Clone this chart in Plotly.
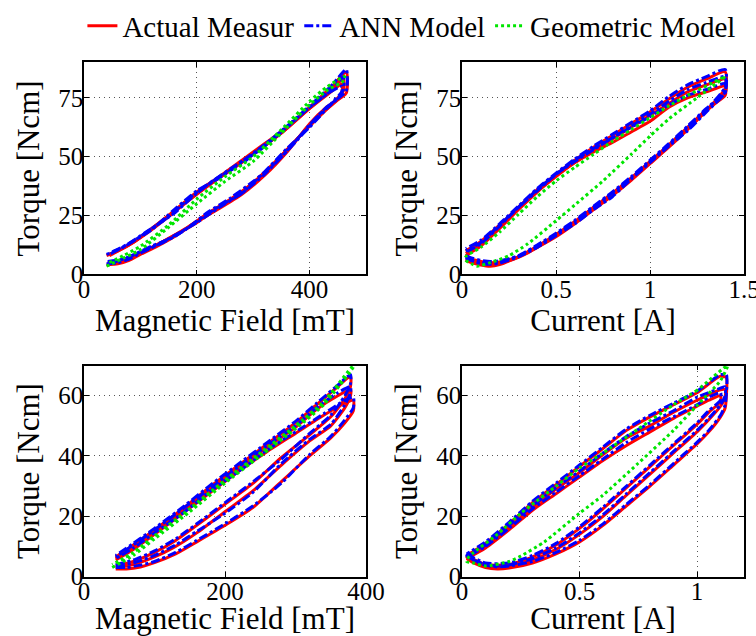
import plotly.graph_objects as go

N = None
# ---------------- Top-left: Torque vs Magnetic Field (mT) ----------------
tl_x = [40, 60, 80, 100, 130, 160, 200, 240, 280, 320, 360, 400, 430, 465, 465, 440, 400, 360, 320, 280, 240, 200, 160, 120, 90, 60, 40, N,
        42, 70, 100, 140, 180, 220, 260, 300, 340, 380, 420, 455, 458, 430, 390, 350, 310, 270, 230, 190, 150, 110, 75, 45, N,
        45, 80, 120, 160, 200, 240, 280, 320, 360, 400, 440, 460, 460, 440, 400, 360, 320, 280, 240, 200, 160, 120, 80, 45]
tl_actual = [4, 4.5, 6, 8.5, 12, 16, 22.5, 28, 34, 42, 52, 64, 71, 77, 86, 80, 71, 62.5, 55.5, 48.5, 41.5, 35, 27, 19.5, 14, 10, 8, N,
             5, 6, 9, 14, 19.5, 26, 32, 39, 48, 58, 68, 75.5, 81, 76, 68.5, 60, 53, 46, 39.5, 32.5, 25, 17.5, 12, 8.5, N,
             5, 7, 11.5, 16.5, 22, 28.5, 35, 43, 53, 63, 72.5, 78, 83, 79, 70.5, 62, 54.5, 47.5, 41, 34, 26.5, 19, 12.5, 8]
tl_ann = [4.5, 5, 6.5, 9, 12.5, 16.5, 22, 28.5, 34.5, 42.5, 52.5, 63.5, 71, 78, 87, 80.5, 71.5, 63, 55, 48, 41, 35.5, 27.5, 19, 14.5, 10.5, 8.5, N,
          5.5, 6.5, 9.5, 13.5, 19, 26.5, 32.5, 39.5, 47.5, 57.5, 68.5, 76, 80, 76.5, 69, 60.5, 52.5, 46.5, 40, 33, 24.5, 18, 12.5, 9, N,
          4.5, 7.5, 12, 16, 22.5, 29, 34.5, 43.5, 53.5, 62.5, 73, 78.5, 84, 78.5, 71, 62.5, 55, 47, 41.5, 34.5, 26, 19.5, 13, 8.5]
tl_geo_x = [40, 70, 100, 150, 200, 250, 300, 350, 400, 430, 462, 462, 430, 400, 350, 300, 250, 200, 150, 100, 70, 40]
tl_geo = [3.5, 7, 10.5, 20, 30, 39.5, 48, 60, 72, 78, 82.5, 84, 79.5, 73.5, 61.5, 50, 41.5, 32, 21, 12, 8, 4.5]

# ---------------- Top-right: Torque vs Current (A) ----------------
tr_loop = [0.02, 0.05, 0.1, 0.15, 0.2, 0.3, 0.4, 0.5, 0.6, 0.7, 0.8, 0.9, 1.0, 1.1, 1.2, 1.3, 1.4,
           1.4, 1.3, 1.2, 1.1, 1.0, 0.9, 0.8, 0.7, 0.6, 0.5, 0.4, 0.3, 0.2, 0.1, 0.02]
tr_x = tr_loop + [N] + tr_loop + [N] + tr_loop
tr_actual = [6, 5, 4, 3.5, 4.2, 7.5, 11.5, 16, 21.5, 27.5, 33.5, 40, 47, 54, 61.5, 69.5, 77,
             86, 83, 79.5, 74.5, 69, 64, 59, 54, 48.5, 42.5, 36, 28.5, 21, 14, 10, N,
             7, 6.5, 5.5, 5, 5.3, 7.5, 12, 17, 22.5, 28.5, 34.5, 41, 48, 55, 62.5, 70, 76,
             80, 77.5, 75, 71, 65, 60.5, 56, 52, 47.5, 41.5, 35, 27.5, 19.5, 12, 8, N,
             6.5, 5.5, 4.5, 4.2, 4.8, 7.2, 11.5, 16.5, 22, 28, 34, 40.5, 47.5, 54.5, 62, 69.5, 79,
             83, 80.5, 77.5, 72.5, 67.5, 62.5, 57.5, 52.5, 47.5, 42, 35.5, 28, 20.5, 13, 9]
tr_ann = [7, 6, 4.5, 4.3, 4.8, 7.5, 11.5, 16.5, 21.5, 27.5, 33, 40.5, 47.5, 54.5, 61, 69, 77.5,
          87, 84, 80.5, 75.5, 69.5, 64.5, 59.5, 54.5, 49, 43, 36.5, 29, 21.5, 14.5, 11, N,
          8, 7, 6, 5.5, 5.8, 8, 12.5, 17.5, 23, 29, 35, 41.5, 48.5, 55.5, 63, 70.5, 77,
          81, 78.5, 76, 72, 67, 62.5, 58, 53.5, 48.5, 42.5, 35.5, 28.5, 20.5, 13, 9.5, N,
          7.5, 6, 5, 4.8, 5.2, 7.8, 12, 17, 22.5, 28.5, 34.5, 41, 48, 55, 62.5, 70, 79.5,
          84, 81.5, 78.5, 73.5, 68, 63, 58, 53, 48, 42.5, 36, 28.5, 21, 13.5, 10]
tr_geo_x = [1.4, 1.3, 1.2, 1.1, 1.0, 0.9, 0.8, 0.7, 0.6, 0.5, 0.4, 0.3, 0.2, 0.1, 0.02,
            0.02, 0.05, 0.08, 0.15, 0.25, 0.35, 0.5, 0.6, 0.75, 0.9, 1.0, 1.1, 1.25, 1.4]
tr_geo = [84, 80, 76, 71.5, 66.5, 61.5, 56.5, 51, 45.5, 39.7, 33, 25.5, 18, 11.5, 7.5,
          6, 4.5, 3.5, 5, 8, 13, 22.8, 29.5, 39.7, 51, 58.7, 66, 75, 84]

# ---------------- Bottom-left: Torque vs Magnetic Field (mT) ----------------
bl_x = [45, 60, 80, 100, 130, 160, 200, 240, 280, 320, 350, 370, 382, 382, 370, 340, 300, 260, 220, 180, 140, 100, 70, 45, N,
        45, 70, 100, 130, 160, 200, 240, 280, 320, 350, 370, 378, 378, 360, 330, 300, 260, 220, 180, 140, 100, 70, 45, N,
        45, 70, 100, 130, 160, 200, 240, 280, 320, 350, 370, 378, 378, 360, 330, 300, 260, 220, 180, 140, 100, 70, 45]
bl_actual = [2.5, 2.5, 3.2, 4.6, 7.5, 11.5, 17, 23, 31.5, 40, 46, 51, 55, 58.5, 57.5, 53.5, 47.5, 41.5, 35, 28, 21, 14, 9, 5.5, N,
             3, 4, 6.5, 10, 14.5, 21.5, 28.5, 37, 45, 50, 56, 60, 62, 60, 55.5, 49.5, 43, 36, 29, 22, 15, 10, 6, N,
             3.5, 5, 8, 12, 17, 24, 31, 39.5, 47, 53, 59, 63, 66.5, 63, 57, 51, 44, 37, 30, 22.5, 15.5, 10.5, 6.5]
bl_ann = [3, 3, 3.8, 5, 8, 12, 17.5, 23.5, 31, 40.5, 46.5, 52, 56, 59.5, 58.5, 54, 48, 42, 35, 28.5, 21, 14.5, 9.5, 6, N,
          3.5, 4.5, 7, 10.5, 15, 21, 28, 37.5, 45.5, 50.5, 57, 61, 63, 61, 56, 50, 43.5, 36.5, 29.5, 22.5, 15.5, 10.5, 6.5, N,
          4, 5.5, 8.5, 12.5, 17.5, 24.5, 31.5, 39, 47.5, 53.5, 60, 64, 67, 63.5, 57.5, 51.5, 44.5, 37.5, 30.5, 23, 16, 11, 7]
bl_geo_x = [40, 70, 100, 150, 200, 250, 300, 340, 382, 382, 340, 300, 250, 200, 150, 100, 70, 40]
bl_geo = [3, 7, 12.5, 21.5, 31, 40, 49, 57, 69.5, 70, 58, 50, 41, 32, 22.5, 13.5, 8, 4]

# ---------------- Bottom-right: Torque vs Current (A) ----------------
br_x = [0.02, 0.05, 0.1, 0.15, 0.2, 0.3, 0.4, 0.5, 0.6, 0.7, 0.8, 0.9, 1.0, 1.05, 1.1, 1.12, 1.125,
        1.125, 1.1, 1.0, 0.9, 0.8, 0.7, 0.6, 0.5, 0.4, 0.3, 0.2, 0.1, 0.02, N,
        0.02, 0.05, 0.1, 0.15, 0.2, 0.3, 0.4, 0.5, 0.6, 0.7, 0.8, 0.9, 1.0, 1.05, 1.1, 1.12,
        1.12, 1.1, 1.0, 0.9, 0.8, 0.7, 0.6, 0.5, 0.4, 0.3, 0.2, 0.1, 0.02, N,
        0.02, 0.1, 0.2, 0.3, 0.4, 0.5, 0.6, 0.7, 0.8, 0.9, 1.0, 1.05, 1.1,
        1.1, 1.05, 1.0, 0.9, 0.8, 0.7, 0.6, 0.5, 0.4, 0.3, 0.2, 0.1, 0.02]
br_actual = [6, 4.5, 3, 2.5, 2.8, 4.5, 7.5, 11.5, 17, 23.5, 30, 37, 44, 48, 53, 56, 60,
             66, 66.5, 61, 57, 53, 48.5, 42.5, 36.5, 30.5, 24.5, 17.5, 11, 7, N,
             6.5, 5, 3.5, 3, 3.3, 5.5, 9, 14, 20, 27, 34, 41, 48, 52, 56.5, 59.5,
             62, 62, 58.5, 54.5, 50, 46, 40.5, 34.5, 29, 23, 16.5, 10, 6.5, N,
             7, 4, 4, 6.5, 10.5, 16, 22.5, 29.5, 36.5, 43.5, 50.5, 54.5, 58,
             60, 58.5, 56.5, 52.5, 48, 43.5, 38.5, 33, 27.5, 22, 15.5, 9.5, 6]
br_ann = [7, 5.5, 3.8, 3.2, 3.5, 5, 8, 12, 17.5, 24, 30.5, 37.5, 44.5, 48.5, 53.5, 57, 61,
          67, 67, 61.5, 57.5, 53.5, 49, 43, 37, 31, 25, 18, 11.5, 7.5, N,
          7, 5.5, 4, 3.5, 3.8, 6, 9.5, 14.5, 20.5, 27.5, 34.5, 41.5, 48.5, 52.5, 57, 60,
          63, 62.5, 59.5, 55, 51, 46.5, 41, 35, 29.5, 23.5, 17, 10.5, 7, N,
          7.5, 4.5, 4.5, 7, 11, 16.5, 23, 30, 37, 44, 51, 55, 58.5,
          61, 59.5, 57, 53, 49, 44.5, 39, 33.5, 28, 22.5, 16, 10, 6.5]
br_geo_x = [1.13, 1.0, 0.9, 0.75, 0.6, 0.5, 0.4, 0.3, 0.25, 0.15, 0.05, 0.02,
            0.02, 0.05, 0.1, 0.2, 0.25, 0.35, 0.5, 0.6, 0.75, 0.9, 1.0, 1.1, 1.13]
br_geo = [70, 61.8, 57, 49, 41, 36, 30, 24, 21, 14, 8, 5.7,
          5, 4.5, 3.5, 5, 6.8, 11.5, 21, 27, 37.6, 48.5, 56.8, 65, 70]

series_names = ["Actual Measur", "ANN Model", "Geometric Model"]
x_titles = ["Magnetic Field [mT]", "Current [A]", "Magnetic Field [mT]", "Current [A]"]
y_title = "Torque [Ncm]"
x_ranges = [[0, 500], [0, 1.5], [0, 400], [0, 1.2]]
x_ticks = [[0, 200, 400], [0, 0.5, 1, 1.5], [0, 200, 400], [0, 0.5, 1]]
y_ranges = [[0, 90], [0, 90], [0, 70], [0, 70]]
y_ticks = [[0, 25, 50, 75], [0, 25, 50, 75], [0, 20, 40, 60], [0, 20, 40, 60]]

panels = [
    (tl_x, tl_actual, tl_ann, tl_geo_x, tl_geo),
    (tr_x, tr_actual, tr_ann, tr_geo_x, tr_geo),
    (bl_x, bl_actual, bl_ann, bl_geo_x, bl_geo),
    (br_x, br_actual, br_ann, br_geo_x, br_geo),
]

FONT = "Liberation Serif"
W, H = 756, 636
fig = go.Figure()

# axis boxes in pixels: (left, right, top, bottom)
boxes = [(84, 366, 57, 271), (462, 744, 57, 271), (84, 366, 363, 576), (462, 744, 363, 576)]

styles = [dict(color="#ff0000", width=3, dash="solid"),
          dict(color="#0000ff", width=3, dash="dashdot"),
          dict(color="#00e600", width=3, dash="dot")]

for i, (px, ya, yn, gx, gy) in enumerate(panels):
    k = "" if i == 0 else str(i + 1)
    xa, yaname = "x" + k, "y" + k
    for j, (xs, ys) in enumerate([(px, ya), (px, yn), (gx, gy)]):
        fig.add_trace(go.Scatter(x=xs, y=ys, mode="lines", name=series_names[j],
                                 line=dict(shape="spline", smoothing=0.6, **styles[j]),
                                 showlegend=(i == 0), xaxis=xa, yaxis=yaname,
                                 connectgaps=False))
    l, r, t, b = boxes[i]
    common = dict(showline=True, linecolor="black", linewidth=1.5, mirror="ticks",
                  ticks="inside", ticklen=5, tickcolor="black", tickwidth=1,
                  showgrid=True, gridcolor="#555555", griddash="1px,4px", gridwidth=1,
                  zeroline=False, automargin=False, ticklabeloverflow="allow",
                  tickfont=dict(family=FONT, size=25, color="black"))
    fig.layout["xaxis" + k] = dict(domain=[l / W, r / W], anchor=yaname, range=x_ranges[i],
                                   tickvals=x_ticks[i], ticktext=[str(v) for v in x_ticks[i]],
                                   ticklabelstandoff=-8,
                                   title=dict(text=x_titles[i], standoff=0,
                                              font=dict(family=FONT, size=31, color="black")),
                                   **common)
    fig.layout["yaxis" + k] = dict(domain=[1 - b / H, 1 - t / H], anchor=xa, range=y_ranges[i],
                                   tickvals=y_ticks[i], ticklabelstandoff=-6,
                                   title=dict(text=y_title, standoff=9,
                                              font=dict(family=FONT, size=31, color="black")),
                                   **common)

fig.update_layout(
    width=W, height=H, margin=dict(l=0, r=0, t=0, b=0),
    paper_bgcolor="white", plot_bgcolor="white",
    font=dict(family=FONT, color="black", size=25),
    showlegend=True,
    legend=dict(orientation="h", x=0.109, y=1 - 20 / H, xanchor="left", yanchor="middle",
                font=dict(family=FONT, size=29, color="black"),
                bgcolor="rgba(0,0,0,0)", itemwidth=30, tracegroupgap=0),
)

fig.write_html("out.html")
